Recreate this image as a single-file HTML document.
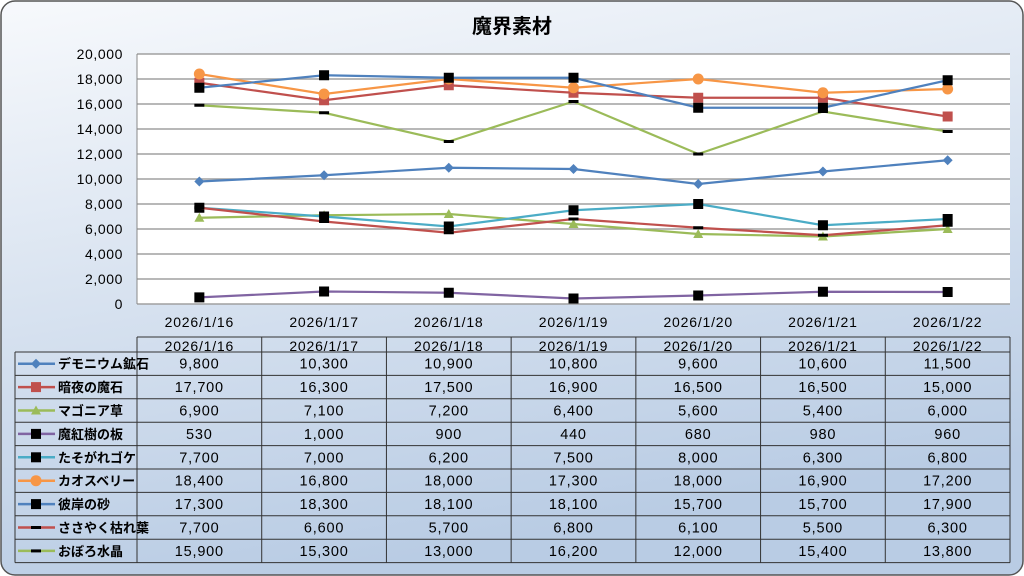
<!DOCTYPE html>
<html><head><meta charset="utf-8"><style>
html,body{margin:0;padding:0;width:1024px;height:576px;overflow:hidden;background:#fff}
svg{display:block;font-family:"Liberation Sans","Noto Sans CJK JP",sans-serif}
</style></head><body>
<svg id="c" width="1024" height="576" xmlns="http://www.w3.org/2000/svg">
<defs><linearGradient id="bg" x1="0" y1="0" x2="0.3" y2="1"><stop offset="0" stop-color="#f7f9fc"/><stop offset="1" stop-color="#b9cce4"/></linearGradient></defs>
<rect x="1" y="1" width="1022" height="574" rx="14" fill="url(#bg)" stroke="#555" stroke-width="1.5"/>
<text x="512" y="33" font-size="20" font-weight="bold" text-anchor="middle" fill="#000">魔界素材</text>
<rect x="137" y="54" width="873" height="250" fill="#fff"/>
<g id="grid"></g><g id="yt"></g><g id="xt"></g><g id="series"></g><g id="tbl"></g>
</svg>
<script>
const categories=["2026/1/16","2026/1/17","2026/1/18","2026/1/19","2026/1/20","2026/1/21","2026/1/22"];
const seriesNames=["デモニウム鉱石","暗夜の魔石","マゴニア草","魔紅樹の板","たそがれゴケ","カオスベリー","彼岸の砂","ささやく枯れ葉","おぼろ水晶"];
const s0=[9800,10300,10900,10800,9600,10600,11500];
const s1=[17700,16300,17500,16900,16500,16500,15000];
const s2=[6900,7100,7200,6400,5600,5400,6000];
const s3=[530,1000,900,440,680,980,960];
const s4=[7700,7000,6200,7500,8000,6300,6800];
const s5=[18400,16800,18000,17300,18000,16900,17200];
const s6=[17300,18300,18100,18100,15700,15700,17900];
const s7=[7700,6600,5700,6800,6100,5500,6300];
const s8=[15900,15300,13000,16200,12000,15400,13800];
const yTicks=[0,2000,4000,6000,8000,10000,12000,14000,16000,18000,20000];
const seriesData=[s0,s1,s2,s3,s4,s5,s6,s7,s8];
const colors=["#4f81bd","#c0504d","#9bbb59","#8064a2","#4bacc6","#f79646","#4f81bd","#c0504d","#9bbb59"];
const markers=["diamond","square","triangle","sq","sq","circle","sq","dash","dash"];
const NS="http://www.w3.org/2000/svg";
const L=137,R=1010,T=54,B=304,yMax=20000;
const step=(R-L)/categories.length;
const X=i=>L+step*(i+0.5);
const Y=v=>B-(v/yMax)*(B-T);
function mk(tag,attrs,parent){const e=document.createElementNS(NS,tag);for(const k in attrs)e.setAttribute(k,attrs[k]);parent.appendChild(e);return e;}
const fmt=v=>v.toLocaleString("en-US");
const grid=document.getElementById("grid"),yt=document.getElementById("yt"),xt=document.getElementById("xt"),sg=document.getElementById("series"),tb=document.getElementById("tbl");
yTicks.forEach(v=>{
 const l=mk("line",{x1:L,x2:R,y1:Y(v),y2:Y(v),stroke:"#a0a0a0","stroke-width":1.5},grid);
 
 
 const t=mk("text",{x:L-14,y:Y(v)+5,"font-size":14,"letter-spacing":0.6,"text-anchor":"end",fill:"#000"},yt);
 t.textContent=fmt(v);
 
 
});
mk("line",{x1:L,x2:L,y1:T,y2:B,stroke:"#888","stroke-width":1},grid);
categories.forEach((c,i)=>{
 const t=mk("text",{x:X(i),y:327,"font-size":14,"letter-spacing":0.8,"text-anchor":"middle",fill:"#000"},xt);
 t.textContent=c;
 
 
});
function marker(type,x,y,color,parent){
 let e;
 if(type==="diamond")e=mk("path",{d:`M${x} ${y-5}L${x+5} ${y}L${x} ${y+5}L${x-5} ${y}Z`,fill:color},parent);
 else if(type==="square")e=mk("rect",{x:x-5,y:y-5,width:10,height:10,fill:color},parent);
 else if(type==="triangle")e=mk("path",{d:`M${x} ${y-5}L${x+5} ${y+4}L${x-5} ${y+4}Z`,fill:color},parent);
 else if(type==="circle")e=mk("circle",{cx:x,cy:y,r:5.5,fill:color},parent);
 else if(type==="sq")e=mk("rect",{x:x-5,y:y-5,width:10,height:10,fill:"#000"},parent);
 else e=mk("rect",{x:x-5,y:y-1.5,width:10,height:3,fill:"#000"},parent);
 return e;
}
seriesData.forEach((d,s)=>{
 const g=mk("g",{},sg);
 
 
 const p=mk("polyline",{points:d.map((v,i)=>X(i)+","+Y(v)).join(" "),fill:"none",stroke:colors[s],"stroke-width":2.2},g);
 
 
 d.forEach((v,i)=>{const m=marker(markers[s],X(i),Y(v),colors[s],g);
  
  });
});
const hT=337,hB=352,rowH=23.4,lx=15;
const lc="#333";
mk("line",{x1:L,x2:R,y1:hT,y2:hT,stroke:lc},tb);
mk("line",{x1:lx,x2:R,y1:hB,y2:hB,stroke:lc},tb);
for(let i=0;i<=categories.length;i++)mk("line",{x1:L+step*i,x2:L+step*i,y1:hT,y2:hB+rowH*9,stroke:lc},tb);
mk("line",{x1:lx,x2:lx,y1:hB,y2:hB+rowH*9,stroke:lc},tb);
for(let r=1;r<=9;r++)mk("line",{x1:lx,x2:R,y1:hB+rowH*r,y2:hB+rowH*r,stroke:lc},tb);
categories.forEach((c,i)=>{
 const t=mk("text",{x:X(i),y:hB-1,"font-size":14,"letter-spacing":0.8,"text-anchor":"middle",fill:"#000"},tb);
 t.textContent=c;
 
 
});
seriesData.forEach((d,s)=>{
 const cy=hB+rowH*s+rowH/2;
 const ln=mk("line",{x1:lx+3,x2:lx+40,y1:cy,y2:cy,stroke:colors[s],"stroke-width":2.5},tb);
 
 
 marker(markers[s],lx+21,cy,colors[s],tb);
 const n=mk("text",{x:lx+43,y:cy+5,"font-size":13,"font-weight":"bold",fill:"#000"},tb);
 n.textContent=seriesNames[s];
 
 
 d.forEach((v,i)=>{
  const t=mk("text",{x:X(i),y:cy+5,"font-size":14.5,"letter-spacing":0.8,"text-anchor":"middle",fill:"#000"},tb);
  t.textContent=fmt(v);
  
  
 });
});
</script>
</body></html>
